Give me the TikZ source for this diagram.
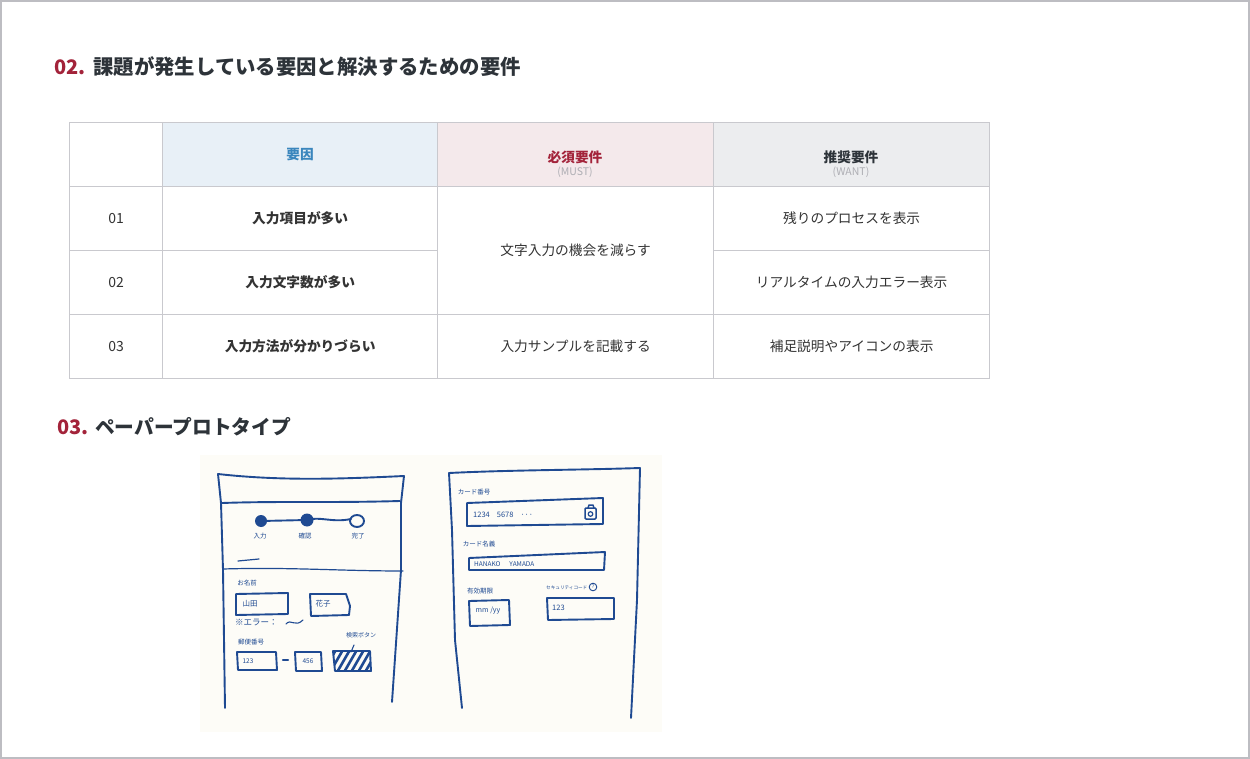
\documentclass[tikz,border=0pt]{standalone}
\usepackage{fontspec}
\setmainfont{Noto Sans CJK JP}
\definecolor{titlec}{HTML}{2D3339}
\definecolor{crim}{HTML}{A3233A}
\definecolor{gridc}{HTML}{C9C9CE}
\definecolor{hblue}{HTML}{E8F0F7}
\definecolor{hbluet}{HTML}{3A86BD}
\definecolor{hpink}{HTML}{F4E9EB}
\definecolor{hgray}{HTML}{ECEDEF}
\definecolor{subc}{HTML}{ADADB3}
\definecolor{bodyc}{HTML}{333333}
\definecolor{penc}{HTML}{1F4A92}
\definecolor{paperc}{HTML}{FDFCF7}
\definecolor{borderc}{HTML}{BDBDC2}
\begin{document}
\begin{tikzpicture}[x=1pt,y=-1pt,
  pen/.style={draw=penc, line width=1.9pt, line join=round, line cap=round},
  hand/.style={text=penc, font=\fontsize{6.5}{7}\selectfont, inner sep=0pt},
  cell/.style={draw=gridc, line width=1.3pt, minimum height=64pt, anchor=north west,
    inner sep=0pt, align=center, text=bodyc, font=\fontsize{13.7}{16}\selectfont},
  ttl/.style={anchor=west, inner sep=0pt, text=titlec, font=\fontsize{20.4}{22}\selectfont\bfseries},
  num/.style={anchor=west, inner sep=0pt, text=crim, font=\fontsize{20}{22}\selectfont\bfseries},
]
\useasboundingbox (0,0) rectangle (1250,759);
\fill[white] (0,0) rectangle (1250,759);
\draw[borderc, line width=2pt] (1,1) rectangle (1249,758);

% ---- section 02 title
\node[num] (t2n) at (54,67) {02.};
\node[ttl] (t2) at (93,67) {課題が発生している要因と解決するための要件};

% ---- table header
\node[cell, minimum width=93pt] (h0) at (69,122) {};
\node[cell, minimum width=275pt, fill=hblue, text=hbluet, font=\fontsize{13.7}{16}\selectfont\bfseries] (h1) at (162,122) {要因};
\node[cell, minimum width=276pt, fill=hpink] (h2) at (437,122) {};
\node[cell, minimum width=276pt, fill=hgray] (h3) at (713,122) {};
\node[text=crim, font=\fontsize{13.7}{16}\selectfont\bfseries, inner sep=0pt] (h2a) at (575,157) {必須要件};
\node[text=subc, font=\fontsize{10.5}{12}\selectfont, inner sep=0pt] (h2b) at (575,172) {(MUST)};
\node[text=titlec, font=\fontsize{13.7}{16}\selectfont\bfseries, inner sep=0pt] (h3a) at (851,157) {推奨要件};
\node[text=subc, font=\fontsize{10.5}{12}\selectfont, inner sep=0pt] (h3b) at (851,172) {(WANT)};

% ---- table body
\node[cell, minimum width=93pt, font=\fontsize{14}{16}\selectfont] (r1c0) at (69,186) {01};
\node[cell, minimum width=275pt, font=\fontsize{13.7}{16}\selectfont\bfseries] (r1c1) at (162,186) {入力項目が多い};
\node[cell, minimum width=276pt, minimum height=128pt] (r12c2) at (437,186) {文字入力の機会を減らす};
\node[cell, minimum width=276pt] (r1c3) at (713,186) {残りのプロセスを表示};

\node[cell, minimum width=93pt, font=\fontsize{14}{16}\selectfont] (r2c0) at (69,250) {02};
\node[cell, minimum width=275pt, font=\fontsize{13.7}{16}\selectfont\bfseries] (r2c1) at (162,250) {入力文字数が多い};
\node[cell, minimum width=276pt] (r2c3) at (713,250) {リアルタイムの入力エラー表示};

\node[cell, minimum width=93pt, font=\fontsize{14}{16}\selectfont] (r3c0) at (69,314) {03};
\node[cell, minimum width=275pt, font=\fontsize{13.7}{16}\selectfont\bfseries] (r3c1) at (162,314) {入力方法が分かりづらい};
\node[cell, minimum width=276pt] (r3c2) at (437,314) {入力サンプルを記載する};
\node[cell, minimum width=276pt] (r3c3) at (713,314) {補足説明やアイコンの表示};

% ---- section 03 title
\node[num] (t3n) at (57,427) {03.};
\node[ttl, font=\fontsize{19.7}{22}\selectfont\bfseries] (t3) at (95,427) {ペーパープロトタイプ};

% ---- paper photo
\fill[paperc] (200,455) rectangle (662,732);

% left sketch
\draw[pen] (218,474) .. controls (280,481) and (340,479) .. (404,476);
\draw[pen] (218,474) -- (221,503) -- (223,570) -- (225,708);
\draw[pen] (404,476) -- (401,503) -- (401,570) -- (392,702);
\draw[pen] (222,503) .. controls (280,501) and (330,503) .. (400,501);
\draw[pen] (261,521) -- (307,520) .. controls (320,516) and (332,523) .. (351,519);
\fill[penc] (261,521) circle (6pt);
\fill[penc] (307,520) circle (6.5pt);
\draw[pen] (357,521) ellipse (7pt and 6pt);
\node[hand] (s1) at (260,536) {入力};
\node[hand] (s2) at (305,536) {確認};
\node[hand] (s3) at (358,536) {完了};
\draw[pen, line width=1.2pt] (238,561) -- (259,559);
\draw[pen, line width=1.2pt] (223,569) .. controls (290,567) and (340,571) .. (403,571);
\node[hand] (lname) at (247,583) {お名前};
\draw[pen] (236,594) -- (288,593) -- (288,614) -- (236,615) -- cycle;
\node[hand, font=\fontsize{7.5}{8}\selectfont] (yamada) at (250,604) {山田};
\draw[pen] (310,594) -- (346,594) -- (350,606) -- (349,615) -- (311,616) -- cycle;
\node[hand, font=\fontsize{7.5}{8}\selectfont] (hanako) at (323,604) {花子};
\node[hand, anchor=west, font=\fontsize{8.5}{9}\selectfont] (err) at (235,623) {※エラー：};
\draw[pen, line width=1.1pt] (286,624) .. controls (291,618) and (295,628) .. (303,620);
\node[hand] (lzip) at (251,642) {郵便番号};
\draw[pen] (237,652) -- (276,652) -- (277,670) -- (238,670) -- cycle;
\node[hand] (z1) at (248,661) {123};
\draw[pen, line width=2.4pt] (283,660) -- (288,660);
\draw[pen] (295,652) -- (321,652) -- (322,671) -- (296,671) -- cycle;
\node[hand] (z2) at (308,661) {456};
\begin{scope}
  \clip (333,651) -- (370,651) -- (371,671) -- (335,671) -- cycle;
  \foreach \i in {0,...,7} \draw[penc, line width=2.6pt] (322+\i*7,674) -- (337+\i*7,648);
\end{scope}
\draw[pen] (333,651) -- (370,651) -- (371,671) -- (335,671) -- cycle;
\node[hand, font=\fontsize{6}{7}\selectfont] (lsearch) at (361,635) {検索ボタン};
\draw[pen, line width=1.1pt] (354,645) -- (351,652);

% right sketch
\draw[pen] (449,473) .. controls (510,470) and (580,470) .. (640,468);
\draw[pen] (449,473) -- (452,530) -- (455,640) -- (462,708);
\draw[pen] (640,468) -- (637,600) -- (631,718);
\node[hand] (lcard) at (474,492) {カード番号};
\draw[pen] (467,503) -- (603,498) -- (603,524) -- (467,526) -- cycle;
\node[hand, anchor=west, font=\fontsize{7.5}{8}\selectfont] (cnum) at (473,515) {1234\hspace{7pt}5678\hspace{7pt}···};
\draw[pen, line width=1.5pt, rounded corners=1pt] (585,508) rectangle (596,519);
\draw[pen, line width=1.5pt] (588,508) -- (589,505) -- (593,505) -- (594,508);
\draw[pen, line width=1.2pt] (590.5,514) circle (2.3pt);
\node[hand] (lholder) at (479,544) {カード名義};
\draw[pen] (469,558) -- (605,552) -- (604,570) -- (469,570) -- cycle;
\node[hand, anchor=west] (holder) at (474,564) {HANAKO\hspace{9pt}YAMADA};
\node[hand] (lexp) at (480,591) {有効期限};
\draw[pen] (469,601) -- (509,600) -- (510,625) -- (470,626) -- cycle;
\node[hand, font=\fontsize{7}{8}\selectfont] (exp) at (488,611) {mm /yy};
\node[hand, anchor=west, font=\fontsize{4.6}{5}\selectfont] (lsec) at (546,588) {セキュリティコード};
\draw[penc, line width=0.9pt] (593,587) circle (3.8pt);
\node[hand, font=\fontsize{5}{5}\selectfont] (qm) at (593,587) {?};
\draw[pen] (547,598) -- (614,598) -- (614,619) -- (548,620) -- cycle;
\node[hand, anchor=west, font=\fontsize{7.5}{8}\selectfont] (sec) at (552,608) {123};
\end{tikzpicture}
\end{document}
